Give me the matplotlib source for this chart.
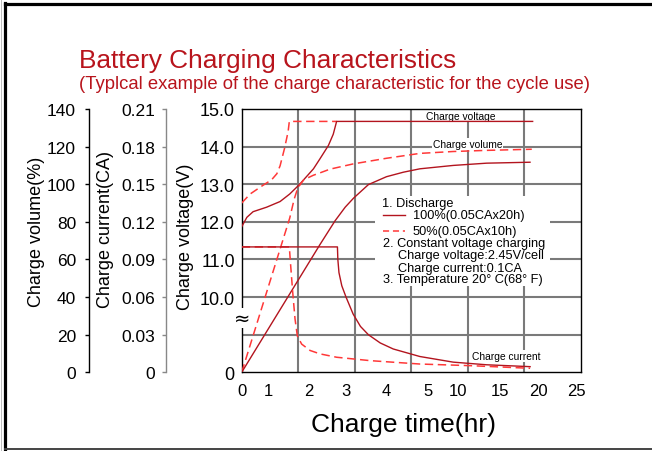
import numpy as np
import matplotlib
matplotlib.use('Agg')
import matplotlib.pyplot as plt
from matplotlib.lines import Line2D
from matplotlib.patches import Rectangle
from matplotlib.ticker import NullLocator

plt.rcParams['font.family'] = ['Liberation Sans', 'DejaVu Sans']

# ---------------- data ----------------
hour_ticks = [0, 1, 2, 3, 4, 5, 10, 15, 20, 25]
volt_ticks = [0, 10, 11, 12, 13, 14, 15]
volt_tick_labels = ['0', '10.0', '11.0', '12.0', '13.0', '14.0', '15.0']
volume_ticks = [0, 20, 40, 60, 80, 100, 120, 140]
current_ticks = [0, 0.03, 0.06, 0.09, 0.12, 0.15, 0.18, 0.21]
current_tick_labels = ['0', '0.03', '0.06', '0.09', '0.12', '0.15', '0.18', '0.21']

# charge voltage (V)
v100_t = [0, 0.19, 0.42, 0.92, 1.28, 1.52, 1.76, 2.12, 2.29, 2.52, 2.65, 2.74, 19.3]
v100 = [11.87, 12.12, 12.27, 12.39, 12.54, 12.74, 12.99, 13.41, 13.67, 14.03, 14.33, 14.67, 14.67]
v50_t = [0, 0.31, 0.74, 1.07, 1.20, 1.28, 1.39, 1.48, 1.51, 2.74]
v50 = [12.50, 12.74, 12.95, 13.12, 13.28, 13.49, 13.95, 14.40, 14.67, 14.67]

# charge volume (%)
vol100_t = [0, 2.29, 2.70, 2.97, 3.18, 3.55, 4.0, 4.41, 4.81, 9.27, 13.47, 18.96]
vol100 = [0, 67.8, 80.6, 87.8, 92.6, 99.8, 104.0, 106.4, 108.2, 110.0, 111.2, 111.7]
vol50_t = [0, 1.52, 1.63, 1.72, 1.87, 2.12, 2.29, 2.56, 3.17, 4.0, 4.81, 9.25, 13.45, 19.19]
vol50 = [0, 82, 92, 98, 102.4, 104.8, 106, 108, 110.8, 113.8, 116.4, 117.4, 118, 118.6]

# charge current (CA)
cur100_t = [0, 2.762, 2.773, 2.803, 2.879, 2.992, 3.169, 3.352, 3.549, 3.845, 4.164, 4.808, 9.245, 13.45, 18.97]
cur100 = [0.1, 0.1, 0.09, 0.0795, 0.069, 0.06, 0.0465, 0.0366, 0.030, 0.0234, 0.0186, 0.0126, 0.0081, 0.006, 0.0045]
cur50_t = [0, 1.51, 1.544, 1.594, 1.652, 1.71, 1.817, 2.03, 2.294, 2.742, 3.592, 4.808, 11.49, 18.97]
cur50 = [0.1, 0.1, 0.085, 0.064, 0.0426, 0.029, 0.0225, 0.0174, 0.0147, 0.012, 0.0093, 0.0066, 0.0053, 0.0032]

# ---------------- scales (layout) ----------------
_xh = [0, 1, 2, 3, 4, 5, 10, 15, 20, 25, 30]
_xc = [0, 0.48, 1.19, 1.85, 2.56, 3.29, 3.82, 4.56, 5.24, 5.92, 6.6]
def fwd_x(h):
    return np.interp(h, _xh, _xc)
def inv_x(c):
    return np.interp(c, _xc, _xh)
_vv = [0, 10, 15, 20]
_vg = [0, 2, 7, 12]
def fwd_v(v):
    return np.interp(v, _vv, _vg)
def inv_v(g):
    return np.interp(g, _vg, _vv)

W, H = 652, 452
fig = plt.figure(figsize=(W / 100, H / 100), dpi=100)

def px(x, y):
    return x / W, 1 - y / H

L, R, T, B = 241.7, 581.0, 110.0, 373.3
rect = [L / W, 1 - B / H, (R - L) / W, (B - T) / H]

SOLID = '#b3141e'
DASH = '#ff3838'
GRID = '#7a7a7a'

# grid axes
ax_g = fig.add_axes(rect)
ax_g.set_xlim(0, 6)
ax_g.set_ylim(0, 7)
for i in range(1, 6):
    ax_g.axvline(i, color=GRID, lw=1.5, zorder=1)
for j in range(1, 7):
    ax_g.axhline(j, color=GRID, lw=1.5, zorder=1)
ax_g.set_xticks([])
ax_g.set_yticks([])
for s in ax_g.spines.values():
    s.set_color('black')
    s.set_linewidth(1.0)
    s.set_zorder(5)

# legend box (white background)
ax_g.add_patch(Rectangle((2.357, 2.307), 3.095, 2.39, facecolor='white', edgecolor='none', zorder=2))
lfs = 9.2
ax_g.text(2.476, 4.511, '1. Discharge', fontsize=lfs, va='center', ha='left', zorder=3)
ax_g.add_line(Line2D([2.493, 2.888], [4.184, 4.184], color=SOLID, lw=1.0, zorder=3))
ax_g.text(3.024, 4.184, '100%(0.05CAx20h)', fontsize=lfs, va='center', ha='left', zorder=3)
ax_g.add_line(Line2D([2.493, 2.888], [3.766, 3.766], color=DASH, lw=1.1, ls=(0, (4, 2.5)), zorder=3))
ax_g.text(3.024, 3.766, '50%(0.05CAx10h)', fontsize=lfs, va='center', ha='left', zorder=3)
ax_g.text(2.504, 3.439, '2. Constant voltage charging', fontsize=lfs, va='center', ha='left', zorder=3)
ax_g.text(2.769, 3.128, 'Charge voltage:2.45V/cell', fontsize=lfs, va='center', ha='left', zorder=3)
ax_g.text(2.769, 2.774, 'Charge current:0.1CA', fontsize=lfs, va='center', ha='left', zorder=3)
ax_g.text(2.504, 2.481, '3. Temperature 20° C(68° F)', fontsize=lfs, va='center', ha='left', zorder=3)

# curve labels
box = dict(facecolor='white', edgecolor='none', pad=0.5)
ax_g.text(3.88, 6.82, 'Charge voltage', fontsize=7.4, ha='center', va='center', bbox=box, zorder=3)
ax_g.text(3.99, 6.07, 'Charge volume', fontsize=7.4, ha='center', va='center', bbox=box, zorder=3)
ax_g.text(4.68, 0.43, 'Charge current', fontsize=7.4, ha='center', va='center', bbox=box, zorder=3)

# axis break mark
ax_g.text(0.0, 1.44, '≈', fontsize=14, ha='center', va='center', family='DejaVu Sans',
          bbox=dict(facecolor='white', edgecolor='none', pad=0.3), zorder=6, clip_on=False)

DASHSTYLE = (0, (5.5, 3))

# voltage axes
ax_v = fig.add_axes(rect, facecolor='none')
ax_v.set_xscale('function', functions=(fwd_x, inv_x))
ax_v.set_yscale('function', functions=(fwd_v, inv_v))
ax_v.set_xlim(0, float(inv_x(6.0)))
ax_v.set_ylim(0, 15)
ax_v.plot(v50_t, v50, color=DASH, lw=1.1, ls=DASHSTYLE)
ax_v.plot(v100_t, v100, color=SOLID, lw=1.0)
ax_v.set_xticks(hour_ticks, labels=[str(h) for h in hour_ticks])
ax_v.set_yticks(volt_ticks, labels=volt_tick_labels)
ax_v.xaxis.set_minor_locator(NullLocator())
ax_v.yaxis.set_minor_locator(NullLocator())
ax_v.tick_params(axis='x', length=0, pad=8.0, labelsize=12)
ax_v.tick_params(axis='y', length=0, pad=5.0, labelsize=13)
for s in ax_v.spines.values():
    s.set_visible(False)

# volume axes
ax_vol = fig.add_axes(rect, facecolor='none', sharex=ax_v)
ax_vol.set_ylim(0, 140)
ax_vol.plot(vol50_t, vol50, color=DASH, lw=1.1, ls=DASHSTYLE)
ax_vol.plot(vol100_t, vol100, color=SOLID, lw=1.0)
ax_vol.set_yticks(volume_ticks, labels=[str(v) for v in volume_ticks])
ax_vol.tick_params(axis='x', length=0, labelbottom=False)
ax_vol.tick_params(axis='y', length=3, width=1, pad=6.5, labelsize=12.5, color='black')
for k, s in ax_vol.spines.items():
    s.set_visible(k == 'left')
ax_vol.spines['left'].set_position(('outward', (L - 89.3) * 0.72))
ax_vol.spines['left'].set_linewidth(1.0)

# current axes
ax_cur = fig.add_axes(rect, facecolor='none', sharex=ax_v)
ax_cur.set_ylim(0, 0.21)
ax_cur.plot(cur50_t, cur50, color=DASH, lw=1.1, ls=DASHSTYLE)
ax_cur.plot(cur100_t, cur100, color=SOLID, lw=1.0)
ax_cur.set_yticks(current_ticks, labels=current_tick_labels)
ax_cur.tick_params(axis='x', length=0, labelbottom=False)
ax_cur.tick_params(axis='y', length=2.6, width=1, pad=5.0, labelsize=12.5, color='#888888')
for k, s in ax_cur.spines.items():
    s.set_visible(k == 'left')
ax_cur.spines['left'].set_position(('outward', (L - 165.7) * 0.72))
ax_cur.spines['left'].set_color('#888888')
ax_cur.spines['left'].set_linewidth(1.0)

# axis titles
fig.text(*px(36.5, 232), 'Charge volume(%)', rotation=90, ha='center', va='center', fontsize=13)
fig.text(*px(106, 230), 'Charge current(CA)', rotation=90, ha='center', va='center', fontsize=13)
fig.text(*px(185.3, 237), 'Charge voltage(V)', rotation=90, ha='center', va='center', fontsize=13)
fig.text(*px(403.3, 425), 'Charge time(hr)', ha='center', va='center', fontsize=19)

# title
TITLE = '#b8141c'
fig.text(*px(79, 68), 'Battery Charging Characteristics', ha='left', va='baseline',
         fontsize=18.9, color=TITLE)
fig.text(*px(79, 89.5), '(Typlcal example of the charge characteristic for the cycle use)',
         ha='left', va='baseline', fontsize=13.3, color=TITLE)

# frame
fig.add_artist(Line2D([4.5 / W, 1.0], [1 - 5 / H, 1 - 5 / H], color='black', lw=2.3, transform=fig.transFigure))
fig.add_artist(Line2D([4.5 / W, 4.5 / W], [1 - 4 / H, 1 - 450 / H], color='black', lw=2.3, transform=fig.transFigure))
fig.add_artist(Line2D([4.5 / W, 1.0], [1 - 450 / H, 1 - 450 / H], color='#444444', lw=1.4, transform=fig.transFigure))
fig.add_artist(Line2D([0.5 / W, 0.5 / W], [0, 1], color='#bbbbbb', lw=0.7, transform=fig.transFigure))

fig.savefig('out.png', dpi=100)
